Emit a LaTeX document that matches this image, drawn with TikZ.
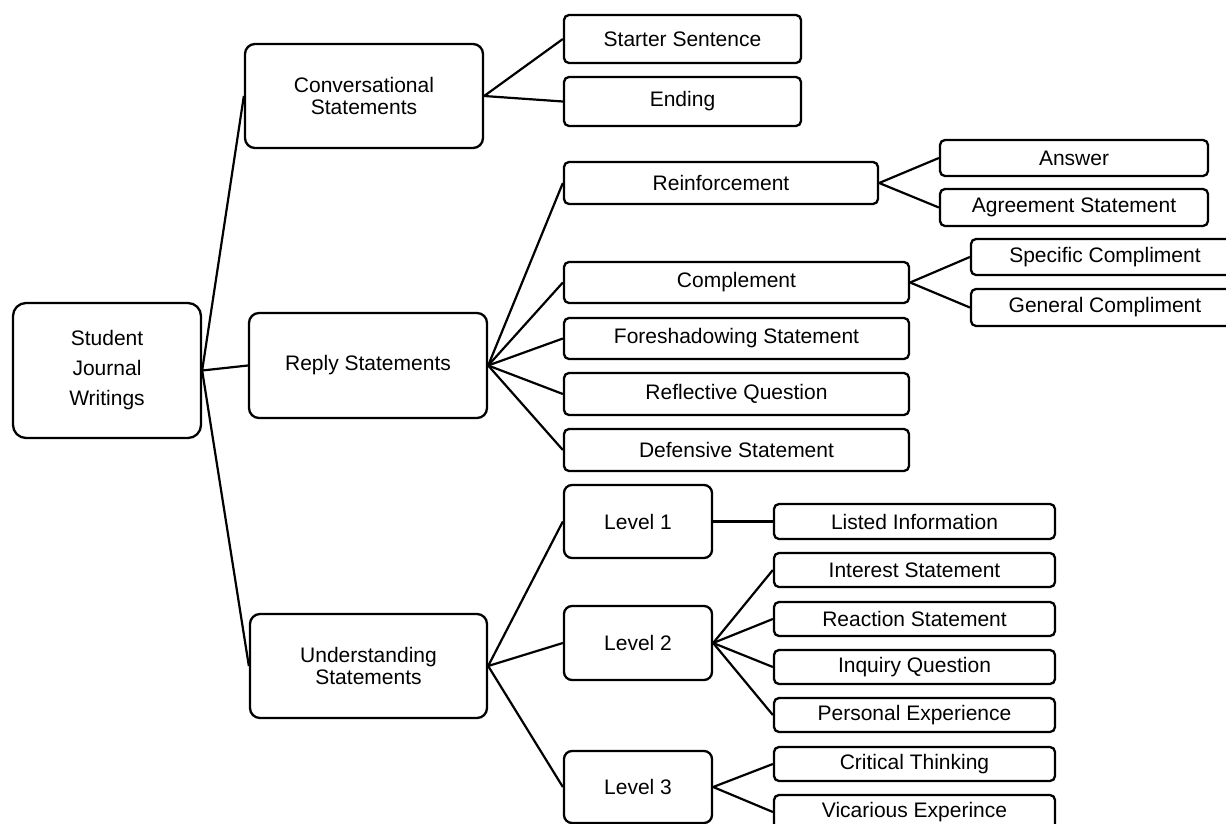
\documentclass[tikz,border=0pt]{standalone}
\usepackage{fontspec}
\setmainfont{Liberation Sans}
\tikzset{
  box/.style={draw, line width=2.3pt, rounded corners=#1, inner sep=0pt, align=center,
    font=\fontsize{21}{22}\selectfont},
  box/.default=5pt,
  link/.style={line width=2.2pt}
}
\begin{document}
\begin{tikzpicture}[x=1pt,y=-1pt]
\useasboundingbox (0,0) rectangle (1226,824);
\clip (0,0) rectangle (1226,824);
% level 0
\node[box=13pt, minimum width=188pt, minimum height=135pt, font=\fontsize{21}{30}\selectfont] (stu) at (107,370.5) {Student\\Journal\\Writings};
% level 1
\node[box=10pt, minimum width=238pt, minimum height=104pt] (conv) at (364,96) {Conversational\\Statements};
\node[box=10pt, minimum width=238pt, minimum height=105pt] (reply) at (368,365.5) {Reply Statements};
\node[box=10pt, minimum width=237pt, minimum height=104pt] (und) at (368.5,666) {Understanding\\Statements};
% conversational children
\node[box, minimum width=237pt, minimum height=48pt] (starter) at (682.5,39) {Starter Sentence};
\node[box, minimum width=237pt, minimum height=49pt] (ending) at (682.5,101.5) {Ending};
% reply children
\node[box, minimum width=314pt, minimum height=42pt] (reinf) at (721,183) {Reinforcement};
\node[box, minimum width=345pt, minimum height=41pt] (compl) at (736.5,282.5) {Complement};
\node[box, minimum width=345pt, minimum height=41pt] (fore) at (736.5,338.5) {Foreshadowing Statement};
\node[box, minimum width=345pt, minimum height=42pt] (refl) at (736.5,394) {Reflective Question};
\node[box, minimum width=345pt, minimum height=42pt] (def) at (736.5,450) {Defensive Statement};
% reinforcement children
\node[box, minimum width=268pt, minimum height=36pt] (answer) at (1074,158) {Answer};
\node[box, minimum width=268pt, minimum height=37pt] (agree) at (1074,207.5) {Agreement Statement};
% complement children
\node[box, minimum width=268pt, minimum height=36pt] (spec) at (1105,257) {Specific Compliment};
\node[box, minimum width=268pt, minimum height=37pt] (gen) at (1105,307.5) {General Compliment};
% understanding children
\node[box=8pt, minimum width=148pt, minimum height=73pt] (lev1) at (638,521.5) {Level 1};
\node[box=8pt, minimum width=148pt, minimum height=74pt] (lev2) at (638,643) {Level 2};
\node[box=8pt, minimum width=148pt, minimum height=72pt] (lev3) at (638,787) {Level 3};
% level children
\node[box, minimum width=281pt, minimum height=35pt] (listed) at (914.5,521.5) {Listed Information};
\node[box, minimum width=281pt, minimum height=34pt] (inter) at (914.5,570) {Interest Statement};
\node[box, minimum width=281pt, minimum height=34pt] (react) at (914.5,619) {Reaction Statement};
\node[box, minimum width=281pt, minimum height=34pt] (inq) at (914.5,667) {Inquiry Question};
\node[box, minimum width=281pt, minimum height=34pt] (pers) at (914.5,715) {Personal Experience};
\node[box, minimum width=281pt, minimum height=34pt] (crit) at (914.5,764) {Critical Thinking};
\node[box, minimum width=281pt, minimum height=34pt] (vic) at (914.5,812) {Vicarious Experince};
% connectors
\foreach \c in {conv,reply,und} \draw[link] (stu.east) -- (\c.west);
\foreach \c in {starter,ending} \draw[link] (conv.east) -- (\c.west);
\foreach \c in {reinf,compl,fore,refl,def} \draw[link] (reply.east) -- (\c.west);
\foreach \c in {answer,agree} \draw[link] (reinf.east) -- (\c.west);
\foreach \c in {spec,gen} \draw[link] (compl.east) -- (\c.west);
\foreach \c in {lev1,lev2,lev3} \draw[link] (und.east) -- (\c.west);
\draw[link] (lev1.east) -- (listed.west);
\foreach \c in {inter,react,inq,pers} \draw[link] (lev2.east) -- (\c.west);
\foreach \c in {crit,vic} \draw[link] (lev3.east) -- (\c.west);
\end{tikzpicture}
\end{document}
